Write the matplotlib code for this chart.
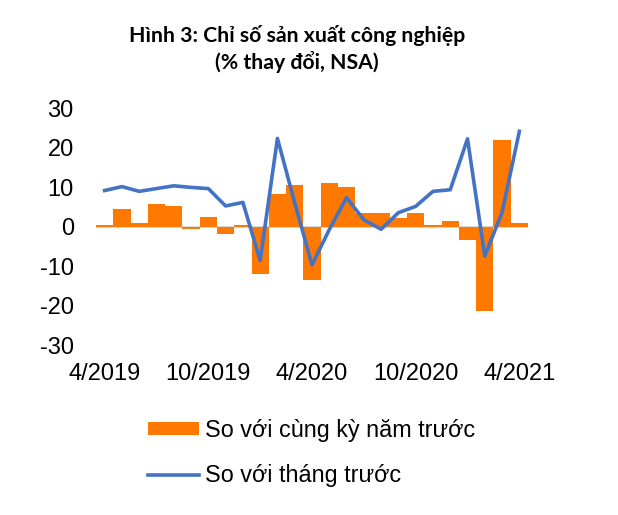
import matplotlib
matplotlib.use("Agg")
import matplotlib.pyplot as plt
import numpy as np

months = ["4/2019", "5/2019", "6/2019", "7/2019", "8/2019", "9/2019", "10/2019", "11/2019",
          "12/2019", "1/2020", "2/2020", "3/2020", "4/2020", "5/2020", "6/2020", "7/2020",
          "8/2020", "9/2020", "10/2020", "11/2020", "12/2020", "1/2021", "2/2021", "3/2021",
          "4/2021"]
yoy = [0.3, 4.4, 1.0, 5.7, 5.1, -0.6, 2.4, -1.9, 0.3, -12.1, 8.2, 10.6, -13.5,
       10.9, 10.0, 3.3, 3.3, 2.1, 3.3, 0.3, 1.3, -3.5, -21.3, 21.9, 0.8]
mom = [9.1, 10.1, 8.9, 9.6, 10.3, 9.9, 9.6, 5.2, 6.1, -8.6, 22.3, 6.0, -9.7,
       -0.8, 7.3, 1.7, -0.7, 3.5, 5.1, 8.9, 9.3, 22.2, -7.5, 3.6, 24.1]
tick_labels = ["4/2019", "10/2019", "4/2020", "10/2020", "4/2021"]

title = "Hình 3: Chỉ số sản xuất công nghiệp\n(% thay đổi, NSA)"
label_yoy = "So với cùng kỳ năm trước"
label_mom = "So với tháng trước"

ORANGE = "#FF7800"
BLUE = "#4472C4"

plt.rcParams["axes.unicode_minus"] = False

fig = plt.figure(figsize=(6.18, 5.15), dpi=100)
ax = fig.add_axes([96 / 618, 1 - 345 / 515, (528 - 96) / 618, (345 - 108) / 515])

x = np.arange(len(months))
bars = ax.bar(x, yoy, width=1.0, color=ORANGE, zorder=2)
ax.axhline(0, color="#D9D9D9", linewidth=1.5, zorder=1)
line, = ax.plot(x, mom, color=BLUE, linewidth=2.6, zorder=3)

ax.set_xlim(-0.5, len(months) - 0.5)
ax.set_ylim(-30, 30)
ax.set_yticks([-30, -20, -10, 0, 10, 20, 30])
ax.set_xticks([months.index(m) for m in tick_labels])
ax.set_xticklabels(tick_labels)
for s in ax.spines.values():
    s.set_visible(False)
ax.tick_params(axis="both", length=0, labelsize=17)
ax.tick_params(axis="x", pad=13)
ax.tick_params(axis="y", pad=16)
for t in ax.get_xticklabels() + ax.get_yticklabels():
    t.set_family("Liberation Sans")

# title block sits a little left of the figure centre in the original
fig.text(297 / 618, 0.905, title, ha="center", va="center", fontsize=15.3, fontweight="bold",
         family="Lato", linespacing=1.25)

leg = fig.legend([bars, line], [label_yoy, label_mom], loc="upper left",
                 bbox_to_anchor=(127 / 618, 1 - 398 / 515), frameon=False,
                 prop={"family": "Liberation Sans", "size": 16.8},
                 handlelength=2.2, handleheight=0.45, handletextpad=0.25, labelspacing=0.95)

fig.savefig("out.png", dpi=100)
